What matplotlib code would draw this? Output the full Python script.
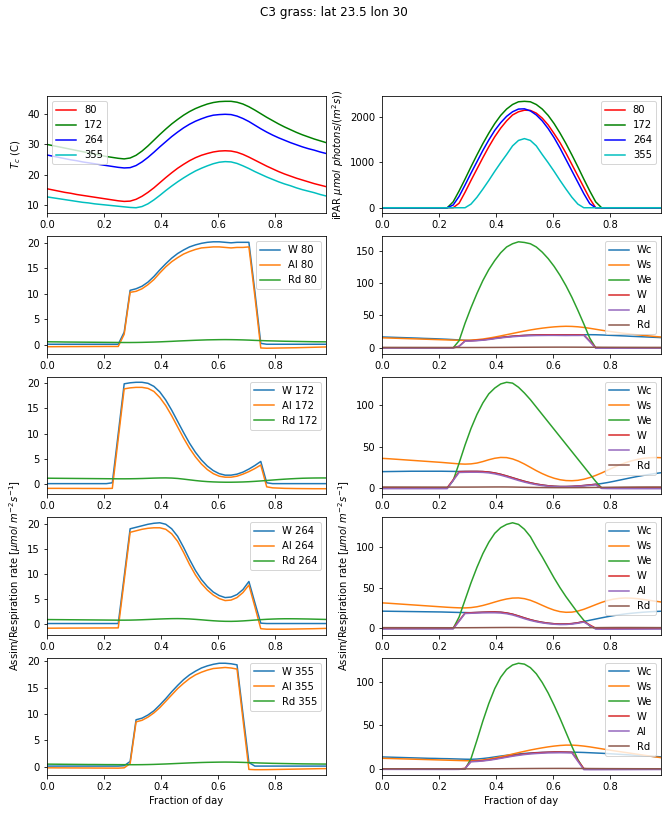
#Bibliotecas
import numpy as np
import matplotlib
matplotlib.use('Agg')
import matplotlib.pyplot as plt

#----------------------------------------------------------------------------------------
#       C3 grass, lat 23.5 lon 30: temperatura, iPAR e taxas de assimilação
#       4 dias do ano, passos de meia hora
#----------------------------------------------------------------------------------------
frac = np.arange(48) / 48.0   # fração do dia

dias = [80, 172, 264, 355]
cores_dia = ['r', 'g', 'b', 'c']

#temperatura da folha
tc_80 = [15.3, 14.9, 14.5, 14.1, 13.8, 13.4, 13.1, 12.8, 12.5, 12.2,
         11.9, 11.6, 11.3, 11.1, 11.2, 11.8, 12.8, 14.1, 15.6, 17.3,
         19.0, 20.6, 22.1, 23.4, 24.6, 25.6, 26.4, 27.0, 27.5, 27.8,
         27.9, 27.8, 27.4, 26.7, 25.8, 24.8, 23.8, 22.8, 21.9, 21.0,
         20.2, 19.5, 18.8, 18.2, 17.6, 17.0, 16.5, 16.0]
tc_172 = [30.0, 29.6, 29.2, 28.8, 28.4, 28.0, 27.6, 27.2, 26.8, 26.4,
          26.0, 25.7, 25.4, 25.2, 25.5, 26.4, 27.8, 29.5, 31.4, 33.3,
          35.1, 36.8, 38.3, 39.7, 40.9, 41.9, 42.7, 43.4, 43.9, 44.2,
          44.3, 44.3, 44.0, 43.4, 42.5, 41.4, 40.2, 39.0, 37.9, 36.8,
          35.8, 34.9, 34.0, 33.2, 32.5, 31.8, 31.2, 30.6]
tc_264 = [26.5, 26.1, 25.7, 25.3, 24.9, 24.6, 24.2, 23.9, 23.6, 23.3,
          23.0, 22.7, 22.4, 22.2, 22.3, 23.0, 24.2, 25.7, 27.4, 29.2,
          30.9, 32.6, 34.1, 35.5, 36.7, 37.7, 38.5, 39.2, 39.7, 39.9,
          40.0, 39.9, 39.4, 38.6, 37.6, 36.4, 35.2, 34.1, 33.1, 32.2,
          31.4, 30.6, 29.9, 29.2, 28.6, 28.1, 27.5, 27.0]
tc_355 = [12.6, 12.3, 12.0, 11.7, 11.4, 11.1, 10.8, 10.6, 10.3, 10.1,
          9.9, 9.7, 9.5, 9.3, 9.1, 9.0, 9.4, 10.3, 11.6, 13.1,
          14.7, 16.2, 17.6, 18.9, 20.1, 21.2, 22.1, 22.9, 23.6, 24.1,
          24.3, 24.2, 23.7, 22.9, 22.0, 21.0, 20.1, 19.2, 18.4, 17.6,
          16.9, 16.3, 15.6, 15.0, 14.5, 14.0, 13.4, 12.9]

#iPAR
ipar_80 = [0] * 13 + [100, 340, 600, 850, 1100, 1340, 1560, 1750, 1910, 2040, 2110, 2145,
                      2140, 2080, 1970, 1820, 1630, 1430, 1200, 950, 700, 450, 200] + [0] * 12
ipar_172 = [0] * 12 + [130, 370, 630, 900, 1160, 1410, 1640, 1850, 2030, 2170, 2270, 2330, 2340,
                       2330, 2270, 2170, 2030, 1850, 1640, 1410, 1160, 900, 630, 370, 130] + [0] * 11
ipar_264 = [0] * 12 + [60, 250, 500, 760, 1010, 1260, 1490, 1700, 1870, 2010, 2110, 2170, 2175,
                       2130, 2040, 1910, 1740, 1540, 1310, 1060, 810, 560, 310, 90, 0] + [0] * 11
ipar_355 = [0] * 15 + [80, 230, 410, 600, 800, 990, 1170, 1360, 1480, 1520,
                       1480, 1360, 1170, 990, 800, 600, 410, 230, 80] + [0] * 14

#dia 80
w_80 = [0.13] * 13 + [2.5, 10.7, 11.0, 11.5, 12.3, 13.4, 14.7, 15.9, 17.0, 17.9, 18.6, 19.2,
                      19.6, 19.9, 20.1, 20.2, 20.2, 20.1, 20.0, 20.1, 20.1, 20.1, 10.5, 0.3] + [0.13] * 11
al_80 = [-0.35, -0.35, -0.34, -0.34, -0.33, -0.33, -0.32, -0.32, -0.31, -0.31, -0.30, -0.30, -0.30,
         2.1, 10.3, 10.5, 11.0, 11.8, 12.8, 14.1, 15.3, 16.3, 17.1, 17.8, 18.3,
         18.7, 19.0, 19.1, 19.2, 19.2, 19.1, 19.0, 19.1, 19.1, 19.2, 9.6, -0.6,
         -0.65, -0.63, -0.61, -0.59, -0.57, -0.55, -0.52, -0.49, -0.46, -0.43, -0.40]
rd_80 = [0.62, 0.60, 0.59, 0.57, 0.56, 0.55, 0.54, 0.53, 0.52, 0.51,
         0.50, 0.49, 0.48, 0.47, 0.47, 0.48, 0.50, 0.53, 0.56, 0.60,
         0.65, 0.70, 0.76, 0.81, 0.86, 0.91, 0.95, 0.99, 1.01, 1.03,
         1.04, 1.03, 1.01, 0.98, 0.94, 0.89, 0.85, 0.81, 0.78, 0.75,
         0.72, 0.70, 0.68, 0.66, 0.64, 0.62, 0.61, 0.60]
wc_80 = [16.8, 16.5, 16.2, 15.9, 15.6, 15.3, 15.0, 14.6, 14.3, 14.0,
         13.6, 13.2, 12.7, 12.2, 11.6, 11.3, 11.7, 12.4, 13.5, 14.8,
         16.0, 17.0, 17.9, 18.6, 19.2, 19.6, 19.9, 20.1, 20.2, 20.2,
         20.1, 20.0, 20.1, 20.1, 20.2, 20.3, 20.2, 19.9, 19.5, 19.1,
         18.7, 18.3, 17.8, 17.4, 17.0, 16.6, 16.2, 15.8]
ws_80 = [15.5, 15.2, 14.9, 14.6, 14.3, 14.0, 13.7, 13.4, 13.1, 12.8,
         12.5, 12.2, 11.9, 11.7, 11.6, 11.9, 12.6, 13.6, 15.0, 16.6,
         18.4, 20.3, 22.2, 24.1, 25.9, 27.6, 29.1, 30.4, 31.5, 32.4,
         33.0, 33.3, 33.1, 32.5, 31.5, 30.2, 28.7, 27.2, 25.8, 24.5,
         23.3, 22.2, 21.2, 20.2, 19.3, 18.4, 17.5, 16.7]
we_80 = [0] * 13 + [11, 38, 62, 84, 104, 121, 135, 147, 156, 161, 164, 163,
                    161, 156, 148, 138, 126, 112, 96, 78, 58, 37, 15] + [0] * 12

#dia 172
w_172 = [0.13] * 11 + [0.3, 10.0, 19.8, 20.0, 20.1, 20.1, 19.9, 19.3, 18.2, 16.6, 14.6, 12.4, 10.2,
                       8.1, 6.3, 4.8, 3.6, 2.7, 2.1, 1.8, 1.8, 2.0, 2.4, 3.0, 3.7, 4.5, 0.3] + [0.13] * 10
al_172 = [-0.80, -0.80, -0.80, -0.81, -0.81, -0.81, -0.82, -0.82, -0.82, -0.83, -0.83,
          -0.8, 9.0, 18.8, 19.0, 19.1, 19.1, 18.9, 18.3, 17.1, 15.5, 13.5, 11.3, 9.1,
          7.1, 5.4, 4.0, 2.9, 2.1, 1.6, 1.4, 1.4, 1.6, 2.0, 2.5, 3.1, 3.8, -0.5,
          -0.7, -0.75, -0.8, -0.82, -0.84, -0.85, -0.86, -0.87, -0.87, -0.87]
rd_172 = [1.20, 1.19, 1.18, 1.17, 1.16, 1.15, 1.14, 1.13, 1.12, 1.11,
          1.10, 1.09, 1.08, 1.08, 1.09, 1.11, 1.14, 1.18, 1.22, 1.25,
          1.26, 1.23, 1.15, 1.02, 0.88, 0.74, 0.62, 0.53, 0.47, 0.43,
          0.41, 0.41, 0.43, 0.46, 0.51, 0.58, 0.66, 0.75, 0.84, 0.93,
          1.01, 1.08, 1.14, 1.19, 1.22, 1.24, 1.25, 1.25]
wc_172 = [19.8, 19.9, 20.0, 20.1, 20.2, 20.3, 20.3, 20.3, 20.3, 20.3,
          20.3, 20.2, 20.1, 20.0, 20.1, 20.1, 20.1, 19.9, 19.3, 18.2,
          16.6, 14.6, 12.4, 10.2, 8.1, 6.3, 4.8, 3.6, 2.7, 2.1,
          1.8, 1.8, 2.0, 2.4, 3.0, 3.7, 4.5, 5.4, 6.6, 8.0,
          9.5, 11.0, 12.5, 13.9, 15.2, 16.4, 17.5, 18.5]
ws_172 = [35.9, 35.5, 35.0, 34.5, 34.0, 33.5, 33.0, 32.5, 32.0, 31.5,
          31.0, 30.4, 29.8, 29.2, 28.9, 29.2, 30.2, 32.0, 34.2, 36.0,
          37.0, 36.8, 35.2, 32.5, 29.0, 25.0, 21.0, 17.4, 14.3, 11.8,
          10.0, 9.0, 8.8, 9.3, 10.6, 12.6, 15.2, 18.2, 21.5, 24.8,
          27.9, 30.6, 32.8, 34.6, 35.9, 36.6, 36.9, 36.7]
we_172 = [0] * 12 + [9, 30, 52, 72, 89, 103, 114, 121, 126, 128, 127, 122, 115,
                     107, 98, 89, 80, 71, 62, 53, 44, 35, 26, 17, 8] + [0] * 11

#dia 264
w_264 = [0.13] * 13 + [9.5, 19.0, 19.3, 19.6, 19.9, 20.1, 20.2, 19.9, 19.0, 17.5, 15.3, 12.9,
                       10.7, 8.9, 7.5, 6.4, 5.7, 5.3, 5.4, 5.9, 6.9, 8.5, 4.3, 0.2] + [0.13] * 11
al_264 = [-0.80, -0.80, -0.79, -0.79, -0.78, -0.78, -0.77, -0.77, -0.76, -0.76, -0.75, -0.75, -0.74,
          8.7, 18.3, 18.6, 18.9, 19.1, 19.2, 19.2, 18.9, 18.0, 16.5, 14.3, 11.9,
          9.8, 8.1, 6.8, 5.8, 5.1, 4.7, 4.8, 5.3, 6.3, 7.8, 3.5, -0.9,
          -1.0, -1.0, -1.0, -1.0, -0.98, -0.96, -0.94, -0.92, -0.90, -0.87, -0.84]
rd_264 = [0.92, 0.91, 0.90, 0.89, 0.88, 0.87, 0.86, 0.85, 0.84, 0.83,
          0.82, 0.81, 0.80, 0.80, 0.81, 0.84, 0.88, 0.93, 0.98, 1.03,
          1.07, 1.10, 1.11, 1.09, 1.04, 0.96, 0.87, 0.77, 0.68, 0.61,
          0.57, 0.56, 0.59, 0.65, 0.73, 0.82, 0.90, 0.97, 1.02, 1.06,
          1.08, 1.08, 1.07, 1.05, 1.03, 1.00, 0.97, 0.94]
wc_264 = [21.2, 21.1, 21.0, 20.9, 20.8, 20.7, 20.6, 20.5, 20.4, 20.3,
          20.2, 20.0, 19.8, 19.6, 19.5, 19.3, 19.6, 19.9, 20.1, 20.2,
          19.9, 19.0, 17.5, 15.3, 12.9, 10.7, 8.9, 7.5, 6.4, 5.7,
          5.3, 5.4, 5.9, 6.9, 8.5, 10.0, 11.5, 13.0, 14.4, 15.7,
          16.8, 17.8, 18.6, 19.3, 19.9, 20.4, 20.8, 21.1]
ws_264 = [31.4, 31.0, 30.5, 30.0, 29.5, 29.0, 28.5, 28.0, 27.5, 27.0,
          26.5, 26.0, 25.6, 25.3, 25.2, 25.6, 26.6, 28.2, 30.2, 32.4,
          34.5, 36.2, 37.3, 37.5, 36.6, 34.6, 31.7, 28.4, 25.2, 22.5,
          20.6, 19.8, 20.0, 21.3, 23.5, 26.3, 29.2, 32.0, 34.3, 36.0,
          37.0, 37.4, 37.2, 36.6, 35.7, 34.6, 33.5, 32.5]
we_264 = [0] * 13 + [14, 35, 56, 75, 92, 106, 117, 124, 128, 130, 128, 122,
                     113, 100, 88, 75, 62, 50, 39, 29, 19, 10, 3] + [0] * 12

#dia 355
w_355 = [0.13] * 13 + [0.2, 1.0, 8.9, 9.2, 9.8, 10.6, 11.7, 12.9, 14.2, 15.4, 16.5, 17.4,
                       18.1, 18.7, 19.1, 19.4, 19.6, 19.6, 19.5, 19.3, 10.0, 0.8, 0.13] + [0.13] * 12
al_355 = [-0.20, -0.20, -0.21, -0.21, -0.22, -0.22, -0.23, -0.23, -0.24, -0.24, -0.25, -0.25, -0.26,
          -0.2, 0.6, 8.5, 8.8, 9.4, 10.2, 11.2, 12.4, 13.6, 14.8, 15.8, 16.7,
          17.4, 17.9, 18.3, 18.6, 18.7, 18.8, 18.7, 18.5, 9.0, -0.5, -0.55,
          -0.55, -0.54, -0.52, -0.50, -0.48, -0.46, -0.44, -0.42, -0.40, -0.38, -0.36, -0.35]
rd_355 = [0.50, 0.49, 0.48, 0.47, 0.46, 0.45, 0.44, 0.43, 0.43, 0.42,
          0.41, 0.41, 0.40, 0.40, 0.39, 0.39, 0.40, 0.42, 0.45, 0.49,
          0.53, 0.58, 0.63, 0.68, 0.73, 0.77, 0.81, 0.84, 0.86, 0.88,
          0.89, 0.88, 0.86, 0.83, 0.79, 0.75, 0.71, 0.68, 0.65, 0.63,
          0.61, 0.59, 0.57, 0.55, 0.54, 0.53, 0.52, 0.51]
wc_355 = [14.0, 13.8, 13.6, 13.4, 13.2, 13.0, 12.8, 12.6, 12.4, 12.3,
          12.1, 12.0, 11.8, 11.6, 11.4, 11.3, 11.6, 12.2, 13.0, 14.0,
          15.0, 15.9, 16.7, 17.4, 18.0, 18.5, 18.9, 19.2, 19.4, 19.6,
          19.6, 19.5, 19.4, 19.3, 19.1, 18.8, 18.5, 18.2, 17.8, 17.4,
          17.0, 16.6, 16.2, 15.7, 15.3, 14.9, 14.5, 14.1]
ws_355 = [12.5, 12.3, 12.1, 11.9, 11.7, 11.5, 11.3, 11.1, 10.9, 10.7,
          10.5, 10.3, 10.1, 9.9, 9.7, 9.6, 9.9, 10.6, 11.6, 12.8,
          14.2, 15.7, 17.3, 18.9, 20.4, 21.9, 23.2, 24.4, 25.5, 26.4,
          27.1, 27.5, 27.5, 27.1, 26.4, 25.5, 24.4, 23.3, 22.2, 21.1,
          20.1, 19.1, 18.1, 17.1, 16.1, 15.1, 14.1, 13.2]
we_355 = [0] * 15 + [12, 33, 55, 75, 92, 105, 114, 119, 121, 120,
                     116, 109, 99, 87, 73, 58, 42, 26, 11] + [0] * 14

tc = [tc_80, tc_172, tc_264, tc_355]
ipar = [ipar_80, ipar_172, ipar_264, ipar_355]
w = [w_80, w_172, w_264, w_355]
al = [al_80, al_172, al_264, al_355]
rd = [rd_80, rd_172, rd_264, rd_355]
wc = [wc_80, wc_172, wc_264, wc_355]
ws = [ws_80, ws_172, ws_264, ws_355]
we = [we_80, we_172, we_264, we_355]

#----------------------------------------------------------------------------------------
fig, axs = plt.subplots(5, 2, figsize=(667 / 72, 814 / 72), dpi=72)
fig.subplots_adjust(left=47 / 667, right=661 / 667, top=1 - 96 / 814, bottom=1 - 775 / 814,
                    hspace=0.2, wspace=0.2)
fig.suptitle('C3 grass: lat 23.5 lon 30', y=0.993)

#linha 0: temperatura e iPAR
for i in range(len(dias)):
    axs[0, 0].plot(frac, tc[i], color=cores_dia[i], label=str(dias[i]))
    axs[0, 1].plot(frac, ipar[i], color=cores_dia[i], label=str(dias[i]))
axs[0, 0].set_ylabel('$T_c$ (C)')
axs[0, 1].set_ylabel(r'iPAR $\mu mol\ photons/(m^2s))$')
axs[0, 0].legend(loc='upper left')
axs[0, 1].legend(loc='upper right')

#linhas 1-4: taxas
for i in range(len(dias)):
    ax = axs[i + 1, 0]
    ax.plot(frac, w[i], label='W ' + str(dias[i]))
    ax.plot(frac, al[i], label='Al ' + str(dias[i]))
    ax.plot(frac, rd[i], label='Rd ' + str(dias[i]))
    ax.legend(loc='upper right')
    ax = axs[i + 1, 1]
    ax.plot(frac, wc[i], label='Wc')
    ax.plot(frac, ws[i], label='Ws')
    ax.plot(frac, we[i], label='We')
    ax.plot(frac, w[i], label='W')
    ax.plot(frac, al[i], label='Al')
    ax.plot(frac, rd[i], label='Rd')
    ax.legend(loc='upper right')

for ax in axs.flat:
    ax.set_xlim(frac[0], frac[-1])

axs[3, 0].set_ylabel(r'Assim/Respiration rate [$\mu mol\ m^{-2}s^{-1}$]')
axs[3, 1].set_ylabel(r'Assim/Respiration rate [$\mu mol\ m^{-2}s^{-1}$]')
axs[4, 0].set_xlabel('Fraction of day')
axs[4, 1].set_xlabel('Fraction of day')

fig.savefig('out.png', dpi=72)
